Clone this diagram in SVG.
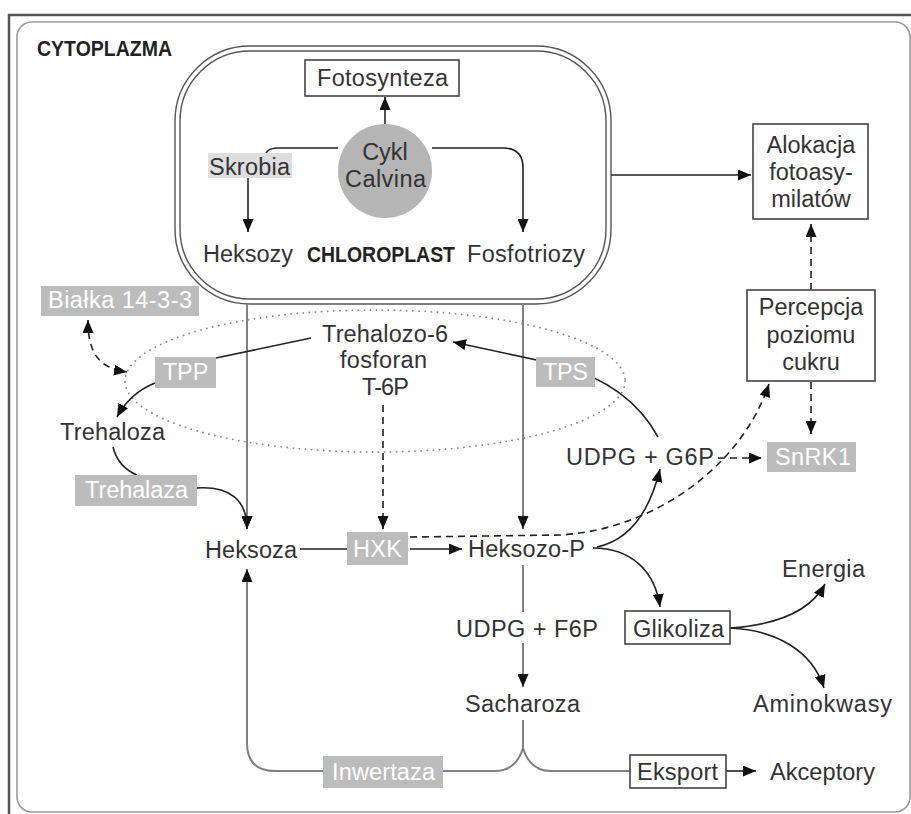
<svg xmlns="http://www.w3.org/2000/svg" width="911" height="814" viewBox="0 0 911 814">
<style>
text{font-family:"Liberation Sans",Arial,sans-serif;font-size:23.5px;fill:#333}
.b{font-weight:bold;fill:#222;font-size:22px}
.w{fill:#fff}
.gbox{fill:#bcbcbc}
.box{fill:#fff;stroke:#444;stroke-width:1.6}
.ln{fill:none;stroke:#222;stroke-width:1.6}
.gl{fill:none;stroke:#808080;stroke-width:2}
.ds{fill:none;stroke:#222;stroke-width:1.6;stroke-dasharray:7 5}
</style>
<defs>
<marker id="ah" markerUnits="userSpaceOnUse" markerWidth="13" markerHeight="11" refX="13" refY="5.5" orient="auto-start-reverse">
<path d="M0,0 L13,5.5 L0,11 z" fill="#111"/>
</marker>
</defs>
<rect width="911" height="814" fill="#fff"/>
<path d="M9 814 L9 15 L911 15" fill="none" stroke="#555" stroke-width="2.5"/>
<rect x="17" y="22" width="893" height="790" rx="15" fill="none" stroke="#9a9a9a" stroke-width="1.6"/>
<g id="cytoplazma"><text class="b" x="37" y="56" textLength="135" lengthAdjust="spacingAndGlyphs">CYTOPLAZMA</text></g>
<ellipse id="t6p-zone" cx="375" cy="381" rx="250" ry="71" fill="none" stroke="#8a8a8a" stroke-width="1.8" stroke-dasharray="0.1 6" stroke-linecap="round"/>
<g id="chloroplast">
<rect x="175" y="46" width="436" height="258" rx="75" fill="none" stroke="#555" stroke-width="1.4"/>
<rect x="180" y="51" width="426" height="248" rx="70" fill="none" stroke="#555" stroke-width="1.4"/>
<text class="b" x="307" y="262" textLength="148" lengthAdjust="spacingAndGlyphs">CHLOROPLAST</text>
</g>
<g id="connectors">
<path class="ln" d="M385 124 L385 97" marker-end="url(#ah)"/>
<path class="ln" d="M338 148 L278 148 Q265 148 265 158"/>
<path class="ln" d="M248 178 L248 232" marker-end="url(#ah)"/>
<path class="ln" d="M432 148 L503 148 Q523 148 523 168 L523 232" marker-end="url(#ah)"/>
<path class="ln" d="M611 175 L751 175" marker-end="url(#ah)"/>
<path class="ds" d="M811 290 L811 224" marker-end="url(#ah)"/>
<path class="ds" d="M811 382 L811 434" marker-end="url(#ah)"/>
<path class="ds" d="M718 458 L762 458" marker-end="url(#ah)"/>
<path class="ds" d="M410 537 L560 535 C650 530 740 470 769 384" marker-end="url(#ah)"/>
<path class="ln" d="M300 549 L347 549"/>
<path class="ln" d="M410 549 L462 549" marker-end="url(#ah)"/>
<path class="gl" d="M247 304 L247 529" marker-end="url(#ah)"/>
<path class="gl" d="M523 304 L523 529" marker-end="url(#ah)"/>
<path class="ds" d="M383 405 L383 529" marker-end="url(#ah)"/>
<path class="ln" d="M311 338 L216 358"/>
<path class="ln" d="M155 383 Q130 393 117 417" marker-end="url(#ah)"/>
<path class="ds" d="M88 320 C88 355 100 368 127 372" marker-start="url(#ah)" marker-end="url(#ah)"/>
<path class="ln" d="M658 437 Q630 385 560 365 L453 342" marker-end="url(#ah)"/>
<path class="ln" d="M113 447 Q118 467 137 475"/>
<path class="ln" d="M197 488 C230 486 247 500 247 529" marker-end="url(#ah)"/>
<path class="ln" d="M597 547 C630 540 650 510 660 469" marker-end="url(#ah)"/>
<path class="ln" d="M593 548 C630 548 655 570 660 607" marker-end="url(#ah)"/>
<path class="gl" d="M523 565 L523 612"/>
<path class="gl" d="M523 643 L523 687" marker-end="url(#ah)"/>
<path class="gl" d="M523 720 L523 748 Q516 771 495 771 L443 771"/>
<path class="gl" d="M523 748 Q530 771 551 771 L630 771"/>
<path class="gl" d="M323 771 L275 771 Q247 771 247 743 L247 569" marker-end="url(#ah)"/>
<path class="ln" d="M726 771 L756 771" marker-end="url(#ah)"/>
<path class="ln" d="M730 628 C775 625 810 612 825 584" marker-end="url(#ah)"/>
<path class="ln" d="M730 628 C775 630 812 650 824 688" marker-end="url(#ah)"/>
</g>
<g id="fotosynteza"><rect class="box" x="305" y="60" width="154" height="36"/><text x="317" y="86" textLength="131">Fotosynteza</text></g>
<g id="cykl-calvina"><circle cx="385" cy="171" r="47" fill="#b5b5b5"/><text x="385" y="160" text-anchor="middle">Cykl</text><text x="345" y="187" textLength="81">Calvina</text></g>
<g id="skrobia"><rect x="208" y="153" width="84" height="25" fill="#dedede"/><text x="209" y="175" textLength="81" fill="#444">Skrobia</text></g>
<g id="heksozy"><text x="203" y="262" textLength="90">Heksozy</text></g>
<g id="fosfotriozy"><text x="467" y="262" textLength="118">Fosfotriozy</text></g>
<g id="alokacja"><rect class="box" x="753" y="124" width="115" height="95"/><text x="811" y="153" text-anchor="middle">Alokacja</text><text x="811" y="180" text-anchor="middle">fotoasy-</text><text x="811" y="207" text-anchor="middle">milatów</text></g>
<g id="percepcja"><rect class="box" x="747" y="290" width="128" height="91"/><text x="811" y="315" text-anchor="middle">Percepcja</text><text x="811" y="343" text-anchor="middle">poziomu</text><text x="811" y="370" text-anchor="middle">cukru</text></g>
<g id="snrk1"><rect class="gbox" x="767" y="442" width="89" height="30"/><text class="w" x="775" y="465" textLength="76">SnRK1</text></g>
<g id="udpg-g6p"><text x="566" y="465" textLength="148">UDPG + G6P</text></g>
<g id="bialka"><rect class="gbox" x="41" y="286" width="158" height="30"/><text class="w" x="48" y="308" textLength="144">Białka 14-3-3</text></g>
<g id="t6p"><text x="322" y="342" textLength="126">Trehalozo-6</text><text x="340" y="368" textLength="87">fosforan</text><text x="362" y="395" textLength="47">T-6P</text></g>
<g id="tpp"><rect class="gbox" x="155" y="357" width="61" height="31"/><text class="w" x="185.5" y="380" text-anchor="middle">TPP</text></g>
<g id="tps"><rect class="gbox" x="536" y="357" width="59" height="30"/><text class="w" x="543" y="380" textLength="45">TPS</text></g>
<g id="trehaloza"><text x="60" y="440" textLength="105">Trehaloza</text></g>
<g id="trehalaza"><rect class="gbox" x="75" y="475" width="122" height="31"/><text class="w" x="85" y="498" textLength="103">Trehalaza</text></g>
<g id="heksoza"><text x="205" y="558" textLength="92">Heksoza</text></g>
<g id="hxk"><rect class="gbox" x="347" y="532" width="61" height="33"/><text class="w" x="353" y="557" textLength="49">HXK</text></g>
<g id="heksozo-p"><text x="468" y="557" textLength="117">Heksozo-P</text></g>
<g id="energia"><text x="782" y="577" textLength="83">Energia</text></g>
<g id="glikoliza"><rect class="box" x="625" y="611" width="105" height="33"/><text x="633" y="637" textLength="91">Glikoliza</text></g>
<g id="udpg-f6p"><text x="456" y="637" textLength="142">UDPG + F6P</text></g>
<g id="aminokwasy"><text x="753" y="712" textLength="139">Aminokwasy</text></g>
<g id="sacharoza"><text x="465" y="712" textLength="115">Sacharoza</text></g>
<g id="inwertaza"><rect class="gbox" x="323" y="756" width="120" height="32"/><text class="w" x="332" y="780" textLength="103">Inwertaza</text></g>
<g id="eksport"><rect class="box" x="630" y="755" width="96" height="33"/><text x="637" y="780" textLength="81">Eksport</text></g>
<g id="akceptory"><text x="770" y="780" textLength="105">Akceptory</text></g>
</svg>
